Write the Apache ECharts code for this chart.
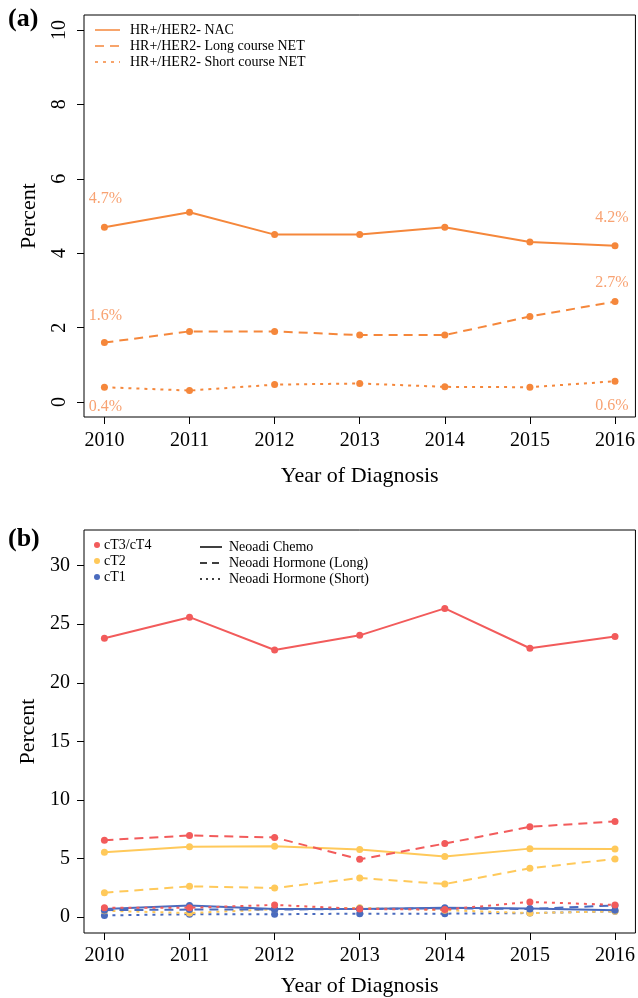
<!DOCTYPE html>
<html><head><meta charset="utf-8">
<script src="https://cdn.jsdelivr.net/npm/echarts@6/dist/echarts.min.js"></script>
<style>html,body{margin:0;padding:0;background:#fff}#c{width:638px;height:998px}</style>
</head><body><div id="c"></div>
<script>
// ---------- data ----------
const years = [2010, 2011, 2012, 2013, 2014, 2015, 2016];
// Panel (a) HR+/HER2-
const nacA      = [4.7, 5.1, 4.5, 4.5, 4.7, 4.3, 4.2];
const longNetA  = [1.6, 1.9, 1.9, 1.8, 1.8, 2.3, 2.7];
const shortNetA = [0.40, 0.31, 0.47, 0.50, 0.41, 0.40, 0.56];
const yTicksA = [0, 2, 4, 6, 8, 10];
// Panel (b) by clinical T stage
const chemoT34 = [23.8, 25.6, 22.8, 24.05, 26.35, 22.95, 23.95];
const longT34  = [6.57, 6.97, 6.80, 4.94, 6.28, 7.71, 8.17];
const shortT34 = [0.80, 0.80, 1.05, 0.70, 0.65, 1.30, 1.05];
const chemoT2  = [5.55, 6.00, 6.05, 5.77, 5.17, 5.85, 5.82];
const longT2   = [2.09, 2.63, 2.49, 3.34, 2.83, 4.17, 4.97];
const shortT2  = [0.55, 0.35, 0.68, 0.80, 0.60, 0.35, 0.50];
const chemoT1  = [0.70, 1.00, 0.70, 0.70, 0.80, 0.75, 0.60];
const longT1   = [0.60, 0.65, 0.65, 0.70, 0.75, 0.70, 1.00];
const shortT1  = [0.15, 0.25, 0.25, 0.30, 0.30, 0.35, 0.50];
const yTicksB = [0, 5, 10, 15, 20, 25, 30];
const legendA = ['HR+/HER2- NAC', 'HR+/HER2- Long course NET', 'HR+/HER2- Short course NET'];
const stageNames = ['cT3/cT4', 'cT2', 'cT1'];
const typeNames = ['Neoadi Chemo', 'Neoadi Hormone (Long)', 'Neoadi Hormone (Short)'];

// ---------- style ----------
const FONT = '"Liberation Serif", "Times New Roman", serif';
const ORANGE = '#F5873B', ORANGE_LBL = '#F8A272';
const RED = '#F25B5B', YELLOW = '#FFC95A', BLUE = '#4A6BBE';
const DASH = [9, 6], DOT = [3, 5];

function pts(arr) { return arr.map((v, i) => [years[i], v]); }

function xAxis(gi, margin, gap) {
  return {
    type: 'value', gridIndex: gi, min: 2009.76, max: 2016.24,
    axisLine: { show: false, onZero: false }, splitLine: { show: false },
    axisTick: { show: true, customValues: years, length: 7, lineStyle: { color: '#000', width: 1 } },
    axisLabel: { customValues: years, fontFamily: FONT, fontSize: 20, color: '#000', margin: margin, formatter: v => String(Math.round(v)) },
    name: 'Year of Diagnosis', nameLocation: 'middle', nameGap: gap,
    nameTextStyle: { fontFamily: FONT, fontSize: 22, color: '#000' }
  };
}
function yAxis(gi, min, max, ticks, rotate, margin, gap) {
  return {
    type: 'value', gridIndex: gi, min: min, max: max,
    axisLine: { show: false, onZero: false }, splitLine: { show: false },
    axisTick: { show: true, customValues: ticks, length: 7, lineStyle: { color: '#000', width: 1 } },
    axisLabel: { customValues: ticks, fontFamily: FONT, fontSize: 20, color: '#000', rotate: rotate, margin: margin },
    name: 'Percent', nameLocation: 'middle', nameGap: gap,
    nameTextStyle: { fontFamily: FONT, fontSize: 22, color: '#000' }
  };
}
function line(gi, arr, color, dash, z) {
  return {
    type: 'line', xAxisIndex: gi, yAxisIndex: gi, data: pts(arr),
    symbol: 'circle', symbolSize: 7, showSymbol: true, z: z || 2,
    itemStyle: { color: color }, lineStyle: { color: color, width: 2, type: dash || 'solid' },
    emphasis: { disabled: true }, animation: false
  };
}
function withEndLabels(s, firstPos, firstDist, lastPos, lastDist) {
  const lbl = (pos, dist, dx) => ({ show: true, position: pos, distance: dist, offset: [dx, 0],
    color: ORANGE_LBL, fontFamily: FONT, fontSize: 16, formatter: p => p.value[1].toFixed(1) + '%' });
  s.data = s.data.map((d, i) => {
    if (i === 0) return { value: d, label: lbl(firstPos, firstDist, 1) };
    if (i === s.data.length - 1) return { value: d, label: lbl(lastPos, lastDist, -3) };
    return { value: d };
  });
  return s;
}

const series = [
  withEndLabels(line(0, nacA, ORANGE, 'solid'), 'top', 17, 'top', 16),
  withEndLabels(line(0, longNetA, ORANGE, DASH), 'top', 15, 'top', 7),
  withEndLabels(line(0, shortNetA, ORANGE, DOT), 'bottom', 8, 'bottom', 13),
  line(1, shortT1, BLUE, DOT, 2),
  line(1, shortT2, YELLOW, DOT, 2),
  line(1, longT1, BLUE, DASH, 3),
  line(1, longT2, YELLOW, DASH, 3),
  line(1, chemoT2, YELLOW, 'solid', 3),
  line(1, chemoT1, BLUE, 'solid', 4),
  line(1, shortT34, RED, DOT, 5),
  line(1, longT34, RED, DASH, 5),
  line(1, chemoT34, RED, 'solid', 5)
];

// legends drawn as graphics
const g = [];
g.push({ type: 'text', left: 8, top: 6, style: { text: '(a)', font: 'bold 26px ' + FONT, fill: '#000' } });
g.push({ type: 'text', left: 8, top: 526, style: { text: '(b)', font: 'bold 26px ' + FONT, fill: '#000' } });
const dashesA = [null, DASH, DOT];
legendA.forEach((t, i) => {
  const y = 30 + i * 16;
  g.push({ type: 'line', shape: { x1: 95, y1: y, x2: 120, y2: y }, style: { stroke: ORANGE, lineWidth: 1.5, lineDash: dashesA[i] } });
  g.push({ type: 'text', x: 130, y: y, style: { text: t, font: '14px ' + FONT, fill: '#000', textVerticalAlign: 'middle' } });
});
const stageColors = [RED, YELLOW, BLUE];
stageNames.forEach((t, i) => {
  const y = 545 + i * 16;
  g.push({ type: 'circle', shape: { cx: 97, cy: y, r: 3 }, style: { fill: stageColors[i] } });
  g.push({ type: 'text', x: 104, y: y, style: { text: t, font: '14px ' + FONT, fill: '#000', textVerticalAlign: 'middle' } });
});
const dashesB = [null, [7, 5], [2, 4]];
typeNames.forEach((t, i) => {
  const y = 547 + i * 16;
  g.push({ type: 'line', shape: { x1: 200, y1: y, x2: 222, y2: y }, style: { stroke: '#000', lineWidth: 1.5, lineDash: dashesB[i] } });
  g.push({ type: 'text', x: 229, y: y, style: { text: t, font: '14px ' + FONT, fill: '#000', textVerticalAlign: 'middle' } });
});

const chart = echarts.init(document.getElementById('c'), null, { renderer: 'canvas' });
chart.setOption({
  backgroundColor: '#fff',
  animation: false,
  grid: [
    { left: 84, top: 15, width: 552, height: 402, show: true, borderColor: '#000', borderWidth: 1, containLabel: false },
    { left: 84, top: 530, width: 552, height: 414, show: true, borderColor: '#000', borderWidth: 1, containLabel: false }
  ],
  xAxis: [xAxis(0, 14, 48), xAxis(1, 13, 42)],
  yAxis: [
    yAxis(0, -0.4, 10.4, yTicksA, 90, 14, 44),
    yAxis(1, -1.35, 33.04, yTicksB, 0, 14, 43)
  ],
  series: series,
  graphic: g
});
</script>
</body></html>
